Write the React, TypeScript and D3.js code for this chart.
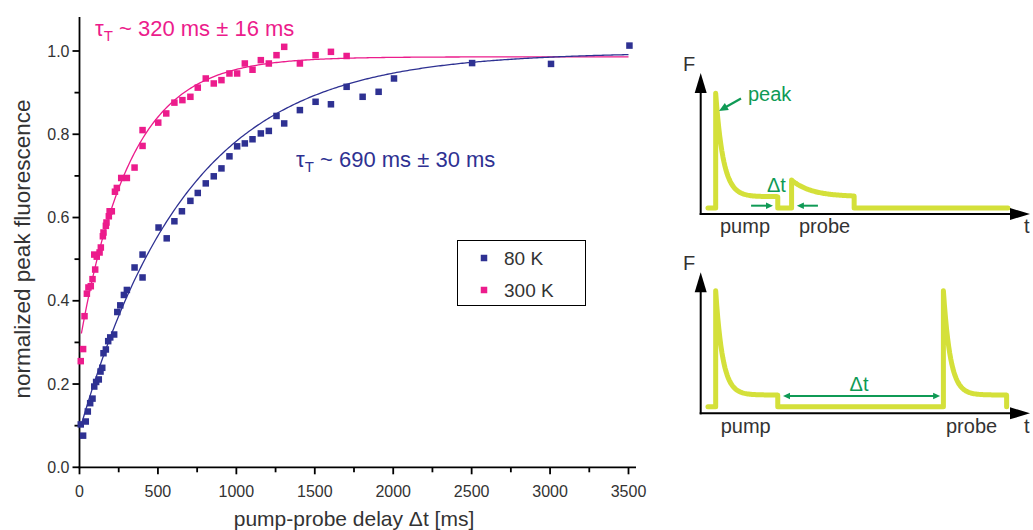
import React from 'react';
import * as d3 from 'd3';

const W = 1033;
const H = 530;
const FONT = '"Liberation Sans", Arial, Helvetica, sans-serif';

// ---- data: 80 K ----
const delays80K = [8, 23, 40, 53, 68, 83, 94, 106, 123, 134, 145, 153, 168, 183, 196, 221, 241, 260, 283, 302, 351, 402, 402, 504, 556, 605, 653, 707, 754, 805, 856, 905, 956, 1005, 1054, 1103, 1156, 1207, 1256, 1305, 1405, 1505, 1603, 1703, 1805, 1907, 2005, 2503, 3006, 3506];
const fluor80K = [0.103, 0.076, 0.110, 0.134, 0.154, 0.165, 0.194, 0.205, 0.211, 0.230, 0.239, 0.274, 0.283, 0.303, 0.312, 0.319, 0.373, 0.389, 0.414, 0.426, 0.480, 0.511, 0.456, 0.576, 0.550, 0.591, 0.615, 0.640, 0.659, 0.682, 0.699, 0.718, 0.747, 0.771, 0.778, 0.788, 0.802, 0.808, 0.844, 0.826, 0.858, 0.878, 0.872, 0.914, 0.890, 0.902, 0.934, 0.971, 0.969, 1.013];

// ---- data: 300 K ----
const delays300K = [8, 23, 32, 47, 57, 72, 83, 94, 100, 110, 128, 136, 149, 153, 168, 172, 187, 192, 206, 226, 238, 266, 302, 351, 402, 402, 502, 553, 605, 656, 707, 754, 805, 856, 905, 956, 1005, 1054, 1103, 1156, 1207, 1256, 1305, 1405, 1505, 1603, 1703];
const fluor300K = [0.255, 0.284, 0.363, 0.417, 0.432, 0.435, 0.452, 0.511, 0.475, 0.506, 0.516, 0.528, 0.555, 0.564, 0.580, 0.588, 0.603, 0.615, 0.615, 0.662, 0.671, 0.695, 0.695, 0.720, 0.772, 0.810, 0.828, 0.850, 0.876, 0.882, 0.890, 0.912, 0.934, 0.922, 0.930, 0.946, 0.946, 0.970, 0.955, 0.978, 0.970, 0.990, 1.010, 0.970, 0.990, 0.998, 0.988];

// ---- exponential fit parameters: y = plateau - amp * exp(-t / tau) ----
const fit80K = { tau: 690, plateau: 0.997, amp: 0.91, tStart: 8, tEnd: 3500 };
const fit300K = { tau: 320, plateau: 0.986, amp: 0.69, tStart: 12, tEnd: 3500 };

// ---- axes ----
const xMajorTicks = [0, 500, 1000, 1500, 2000, 2500, 3000, 3500];
const xMinorTicks = [250, 750, 1250, 1750, 2250, 2750, 3250];
const yMajorTicks = [0, 0.2, 0.4, 0.6, 0.8, 1.0];
const yTickLabels = ['0.0', '0.2', '0.4', '0.6', '0.8', '1.0'];
const yMinorTicks = [0.1, 0.3, 0.5, 0.7, 0.9];

const seriesNames = ['80 K', '300 K'];
const COLOR_80 = '#2e3192';
const COLOR_300 = '#ec1c8c';
const PULSE = '#d4e03a';
const GREEN = '#0f9a55';
const TEXT = '#333333';

// ---- schematic insets (time units 0..100, fluorescence 0..1) ----
const insetTop = {
  base: 0.043, plateau: 0.123, traceStart: 2.2, traceEnd: 93.3,
  pulses: [
    { start: 4.55, end: 23.4, peak: 0.856, tau: 2.3 },
    { start: 27.6, end: 46.6, peak: 0.241, tau: 6 },
  ],
};
const insetBottom = {
  base: 0.047, plateau: 0.13, traceStart: 2.2, traceEnd: 92.9,
  pulses: [
    { start: 4.55, end: 23.4, peak: 0.87, tau: 2.1 },
    { start: 73.7, end: 92.9, peak: 0.87, tau: 2.1 },
  ],
};

function trace(spec: typeof insetTop): [number, number][] {
  const pts: [number, number][] = [[spec.traceStart, spec.base]];
  spec.pulses.forEach((p) => {
    pts.push([p.start, spec.base]);
    pts.push([p.start, p.peak]);
    const n = 60;
    for (let i = 1; i <= n; i++) {
      const t = p.start + ((p.end - p.start) * i) / n;
      pts.push([t, spec.plateau + (p.peak - spec.plateau) * Math.exp(-(t - p.start) / p.tau)]);
    }
    pts.push([p.end, spec.base]);
  });
  pts.push([spec.traceEnd, spec.base]);
  return pts;
}

function fitCurve(f: typeof fit80K): [number, number][] {
  const pts: [number, number][] = [];
  const n = 300;
  for (let i = 0; i <= n; i++) {
    const t = f.tStart + ((f.tEnd - f.tStart) * i) / n;
    pts.push([t, f.plateau - f.amp * Math.exp(-t / f.tau)]);
  }
  return pts;
}

function Arrowhead({ x, y, dir, len, half, color }: { x: number; y: number; dir: number; len: number; half: number; color: string }) {
  const bx = x - len * Math.cos(dir);
  const by = y - len * Math.sin(dir);
  const px = -Math.sin(dir) * half;
  const py = Math.cos(dir) * half;
  return <polygon points={`${x},${y} ${bx + px},${by + py} ${bx - px},${by - py}`} fill={color} />;
}

function Inset({ spec, y0, y1, xScale, children }: any) {
  const yS = d3.scaleLinear().domain([0, 1]).range([y0, y1]);
  const line = d3.line<[number, number]>().x((d) => xScale(d[0])).y((d) => yS(d[1]));
  const ox = xScale(0);
  const tipX = xScale(100);
  return (
    <g>
      <path d={line(trace(spec)) || ''} fill="none" stroke={PULSE} strokeWidth={5} strokeLinejoin="round" strokeLinecap="round" />
      <line x1={ox} y1={y0 + 1} x2={ox} y2={y1 + 15} stroke="#000" strokeWidth={2} />
      <Arrowhead x={ox} y={y1} dir={-Math.PI / 2} len={20} half={6} color="#000" />
      <line x1={ox - 1} y1={y0} x2={tipX - 15} y2={y0} stroke="#000" strokeWidth={2} />
      <Arrowhead x={tipX} y={y0} dir={0} len={20} half={6} color="#000" />
      {children(yS)}
    </g>
  );
}

export default function App() {
  const x = d3.scaleLinear().domain([0, 3500]).range([79.5, 628.5]);
  const y = d3.scaleLinear().domain([0, 1]).range([467.3, 51]);
  const fitLine = d3.line<[number, number]>().x((d) => x(d[0])).y((d) => y(d[1]));
  const xAxisY = y(0);
  const yAxisX = x(0);
  const ms = 6.5;

  const xi = d3.scaleLinear().domain([0, 100]).range([700.7, 1030]);

  return (
    <svg width={W} height={H} style={{ position: 'absolute', left: 0, top: 0, background: '#fff' }} fontFamily={FONT}>
      <rect x={0} y={0} width={W} height={H} fill="#fff" />
      {/* axes */}
      <line x1={yAxisX} y1={17} x2={yAxisX} y2={xAxisY + 0.9} stroke="#000" strokeWidth={1.8} />
      <line x1={yAxisX - 0.9} y1={xAxisY} x2={636} y2={xAxisY} stroke="#000" strokeWidth={1.8} />
      {xMajorTicks.map((t) => (
        <g key={'xm' + t}>
          <line x1={x(t)} x2={x(t)} y1={xAxisY} y2={xAxisY + 7} stroke="#000" strokeWidth={1.8} />
          <text x={x(t)} y={xAxisY + 30} textAnchor="middle" fontSize={16} fill={TEXT}>{t}</text>
        </g>
      ))}
      {xMinorTicks.map((t) => (
        <line key={'xn' + t} x1={x(t)} x2={x(t)} y1={xAxisY} y2={xAxisY + 5} stroke="#000" strokeWidth={1.8} />
      ))}
      {yMajorTicks.map((t, i) => (
        <g key={'ym' + t}>
          <line x1={yAxisX - 7} x2={yAxisX} y1={y(t)} y2={y(t)} stroke="#000" strokeWidth={1.8} />
          <text x={yAxisX - 10} y={y(t) + 5.5} textAnchor="end" fontSize={16} fill={TEXT}>{yTickLabels[i]}</text>
        </g>
      ))}
      {yMinorTicks.map((t) => (
        <line key={'yn' + t} x1={yAxisX - 5} x2={yAxisX} y1={y(t)} y2={y(t)} stroke="#000" strokeWidth={1.8} />
      ))}
      <text x={354} y={526} textAnchor="middle" fontSize={21} fill={TEXT}>pump-probe delay Δt [ms]</text>
      <text transform={`translate(29.5,249) rotate(-90)`} textAnchor="middle" fontSize={22.5} fill={TEXT}>normalized peak fluorescence</text>

      {/* fits */}
      <path d={fitLine(fitCurve(fit300K)) || ''} fill="none" stroke={COLOR_300} strokeWidth={1.3} />
      <path d={fitLine(fitCurve(fit80K)) || ''} fill="none" stroke={COLOR_80} strokeWidth={1.3} />

      {/* points */}
      {delays80K.map((d, i) => (
        <rect key={'b' + i} x={x(d) - ms / 2} y={y(fluor80K[i]) - ms / 2} width={ms} height={ms} fill={COLOR_80} />
      ))}
      {delays300K.map((d, i) => (
        <rect key={'p' + i} x={x(d) - ms / 2} y={y(fluor300K[i]) - ms / 2} width={ms} height={ms} fill={COLOR_300} />
      ))}

      {/* annotations */}
      <text x={95} y={35.5} fontSize={22} fill={COLOR_300}>
        τ<tspan fontSize={15} dy={5}>T</tspan><tspan dy={-5}> ~ 320 ms ± 16 ms</tspan>
      </text>
      <text x={296} y={167} fontSize={22} fill={COLOR_80}>
        τ<tspan fontSize={15} dy={5}>T</tspan><tspan dy={-5}> ~ 690 ms ± 30 ms</tspan>
      </text>

      {/* legend */}
      <rect x={457.5} y={240.5} width={128} height={65} fill="#fff" stroke="#000" strokeWidth={1} />
      {[COLOR_80, COLOR_300].map((c, i) => (
        <g key={'lg' + i}>
          <rect x={484 - ms / 2} y={258 + i * 32 - ms / 2} width={ms} height={ms} fill={c} />
          <text x={504} y={264.5 + i * 32} fontSize={19} fill={TEXT}>{seriesNames[i]}</text>
        </g>
      ))}

      {/* top inset */}
      <Inset spec={insetTop} y0={214} y1={73} xScale={xi}>
        {(yS: any) => (
          <g>
            <text x={683} y={71} fontSize={20} fill={TEXT}>F</text>
            <text x={1024} y={233} fontSize={20} fill={TEXT}>t</text>
            <text x={720} y={233} fontSize={20} fill={TEXT}>pump</text>
            <text x={799} y={233} fontSize={20} fill={TEXT}>probe</text>
            <text x={748} y={101} fontSize={20} fill={GREEN}>peak</text>
            <line x1={741} y1={98.5} x2={725} y2={107.5} stroke={GREEN} strokeWidth={2.2} />
            <Arrowhead x={719} y={111} dir={Math.atan2(12.5, -22)} len={9} half={4} color={GREEN} />
            <text x={767} y={192} fontSize={20} fill={GREEN}>Δt</text>
            <line x1={xi(15.3)} y1={yS(0.059)} x2={xi(21.95) - 5} y2={yS(0.059)} stroke={GREEN} strokeWidth={2} />
            <Arrowhead x={xi(21.95)} y={yS(0.059)} dir={0} len={7} half={3.2} color={GREEN} />
            <line x1={xi(35.6)} y1={yS(0.059)} x2={xi(29.2) + 5} y2={yS(0.059)} stroke={GREEN} strokeWidth={2} />
            <Arrowhead x={xi(29.2)} y={yS(0.059)} dir={Math.PI} len={7} half={3.2} color={GREEN} />
          </g>
        )}
      </Inset>

      {/* bottom inset */}
      <Inset spec={insetBottom} y0={413.3} y1={272.3} xScale={xi}>
        {(yS: any) => (
          <g>
            <text x={683} y={270} fontSize={20} fill={TEXT}>F</text>
            <text x={1024} y={433} fontSize={20} fill={TEXT}>t</text>
            <text x={720.7} y={433} fontSize={20} fill={TEXT}>pump</text>
            <text x={946} y={433} fontSize={20} fill={TEXT}>probe</text>
            <text x={859} y={391} fontSize={20} fill={GREEN} textAnchor="middle">Δt</text>
            <line x1={xi(25) + 5} y1={yS(0.123)} x2={xi(72.7) - 5} y2={yS(0.123)} stroke={GREEN} strokeWidth={2} />
            <Arrowhead x={xi(25)} y={yS(0.123)} dir={Math.PI} len={7} half={3.2} color={GREEN} />
            <Arrowhead x={xi(72.7)} y={yS(0.123)} dir={0} len={7} half={3.2} color={GREEN} />
          </g>
        )}
      </Inset>
    </svg>
  );
}
